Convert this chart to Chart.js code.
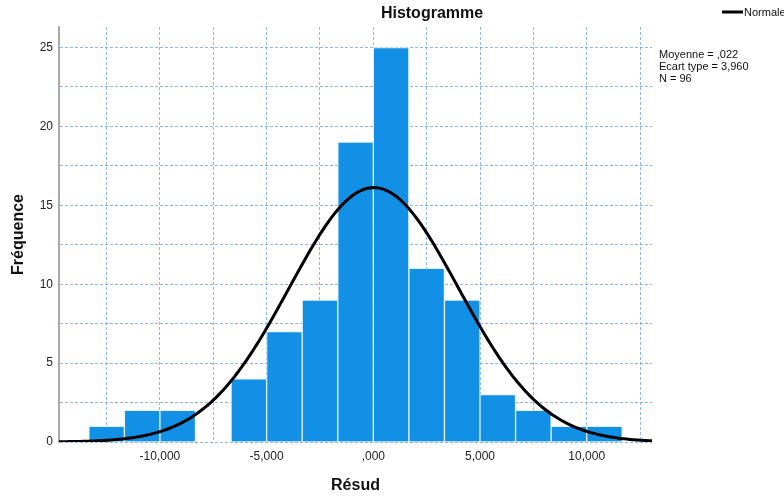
<!DOCTYPE html>
<html>
<head>
<meta charset="utf-8">
<title>Histogramme</title>
<script src="https://cdn.jsdelivr.net/npm/chart.js@4/dist/chart.umd.min.js"></script>
<style>
  html, body { margin: 0; padding: 0; background: #ffffff; }
  #wrap { width: 784px; height: 500px; }
</style>
</head>
<body>
<div id="wrap"><canvas id="c" width="784" height="500"></canvas></div>
<script>
// Histogram bins (centres) and frequencies of the residuals
const binCenters = [-12.5, -10.833, -9.167, -7.5, -5.833, -4.167, -2.5, -0.833, 0.833, 2.5, 4.167, 5.833, 7.5, 9.167, 10.833];
const counts = [1, 2, 2, 0, 4, 7, 9, 19, 25, 11, 9, 3, 2, 1, 1];

// Summary statistics shown beside the chart
const meanValue = 0.022;
const sdValue = 3.960;
const nValue = 96;

// Axis extents and tick spacing
const xRange = [-14.73, 13.06];
const yRange = [0, 26.3];
const gridStep = 2.5;
const labelStep = 5;

const FONT = "'Liberation Sans', Arial, Helvetica, sans-serif";
const BAR_COLOR = '#1290e6';
const GRID_COLOR = 'rgba(100,160,240,0.75)';

// French-style number: comma decimal, three decimals, no leading zero
function fmt(v) {
  let s = Math.abs(v).toFixed(3).replace('.', ',');
  if (s.startsWith('0,')) s = s.slice(1);
  return (v < 0 ? '-' : '') + s;
}

// Fitted normal curve, scaled to the histogram counts
const binWidth = binCenters[1] - binCenters[0];
const curve = [];
for (let i = 0; i <= 300; i++) {
  const x = xRange[0] + (xRange[1] - xRange[0]) * i / 300;
  const z = (x - meanValue) / sdValue;
  const y = nValue * binWidth / (sdValue * Math.sqrt(2 * Math.PI)) * Math.exp(-0.5 * z * z);
  curve.push({ x, y });
}

const bars = binCenters.map((x, i) => ({ x, y: counts[i] }));

// Grid ticks at every multiple of the grid step inside the axis range
function gridTicks(axis) {
  const ticks = [];
  const first = Math.ceil(axis.min / gridStep - 1e-9);
  const last = Math.floor(axis.max / gridStep + 1e-9);
  for (let k = first; k <= last; k++) ticks.push({ value: k * gridStep });
  axis.ticks = ticks;
}
function onLabel(v) {
  const k = v / labelStep;
  return Math.abs(k - Math.round(k)) < 1e-6;
}

// Title, legend and statistics block
const decorations = {
  id: 'decorations',
  afterDraw(chart) {
    const ctx = chart.ctx;
    ctx.save();
    ctx.fillStyle = '#111';
    ctx.textBaseline = 'middle';
    ctx.font = 'bold 16px ' + FONT;
    ctx.textAlign = 'center';
    ctx.fillText('Histogramme', 432, 14);

    ctx.strokeStyle = '#000';
    ctx.lineWidth = 3;
    ctx.beginPath();
    ctx.moveTo(722, 12);
    ctx.lineTo(743, 12);
    ctx.stroke();
    ctx.font = '11px ' + FONT;
    ctx.textAlign = 'left';
    ctx.fillText('Normale', 744, 13);

    ctx.fillText('Moyenne = ' + fmt(meanValue), 659, 55);
    ctx.fillText('Ecart type = ' + sdValue.toFixed(3).replace('.', ','), 659, 67);
    ctx.fillText('N = ' + nValue, 659, 79);
    ctx.restore();
  }
};

new Chart(document.getElementById('c'), {
  type: 'bar',
  data: {
    datasets: [
      {
        type: 'line',
        label: 'Normale',
        data: curve,
        borderColor: '#000000',
        borderWidth: 3,
        pointRadius: 0,
        tension: 0,
        fill: false,
        order: 0
      },
      {
        type: 'bar',
        label: 'Fréquence',
        data: bars,
        backgroundColor: BAR_COLOR,
        borderColor: 'rgba(225,240,252,0.95)',
        borderWidth: 1,
        borderSkipped: 'bottom',
        categoryPercentage: 1,
        barPercentage: 1,
        grouped: false,
        order: 1
      }
    ]
  },
  options: {
    responsive: false,
    animation: false,
    layout: { padding: { left: 0, right: 132, top: 27, bottom: 0 } },
    plugins: {
      legend: { display: false },
      title: { display: false },
      tooltip: { enabled: false }
    },
    scales: {
      x: {
        type: 'linear',
        min: xRange[0],
        max: xRange[1],
        offset: false,
        afterBuildTicks: gridTicks,
        afterFit(axis) { axis.height = 58; },
        ticks: {
          autoSkip: false,
          maxRotation: 0,
          padding: 7,
          color: '#222',
          font: { family: FONT, size: 12 },
          callback: v => onLabel(v) ? fmt(v) : ''
        },
        grid: {
          offset: false,
          color: GRID_COLOR,
          lineWidth: 1,
          drawTicks: false
        },
        border: { display: false, dash: [3, 2] },
        title: {
          display: true,
          text: 'Résud',
          color: '#111',
          font: { family: FONT, size: 16, weight: 'bold' },
          padding: { top: 0, bottom: 5 }
        }
      },
      y: {
        type: 'linear',
        min: yRange[0],
        max: yRange[1],
        afterBuildTicks: gridTicks,
        afterFit(axis) { axis.width = 59; },
        ticks: {
          autoSkip: false,
          padding: 6,
          color: '#222',
          font: { family: FONT, size: 12 },
          callback: v => onLabel(v) ? String(v) : ''
        },
        grid: {
          color: GRID_COLOR,
          lineWidth: 1,
          drawTicks: false
        },
        border: { display: true, color: '#a9a9a9', width: 2, dash: [3, 2] },
        title: {
          display: true,
          text: 'Fréquence',
          color: '#111',
          font: { family: FONT, size: 16, weight: 'bold' },
          padding: { top: 9, bottom: 0 }
        }
      }
    }
  },
  plugins: [decorations]
});
</script>
</body>
</html>
